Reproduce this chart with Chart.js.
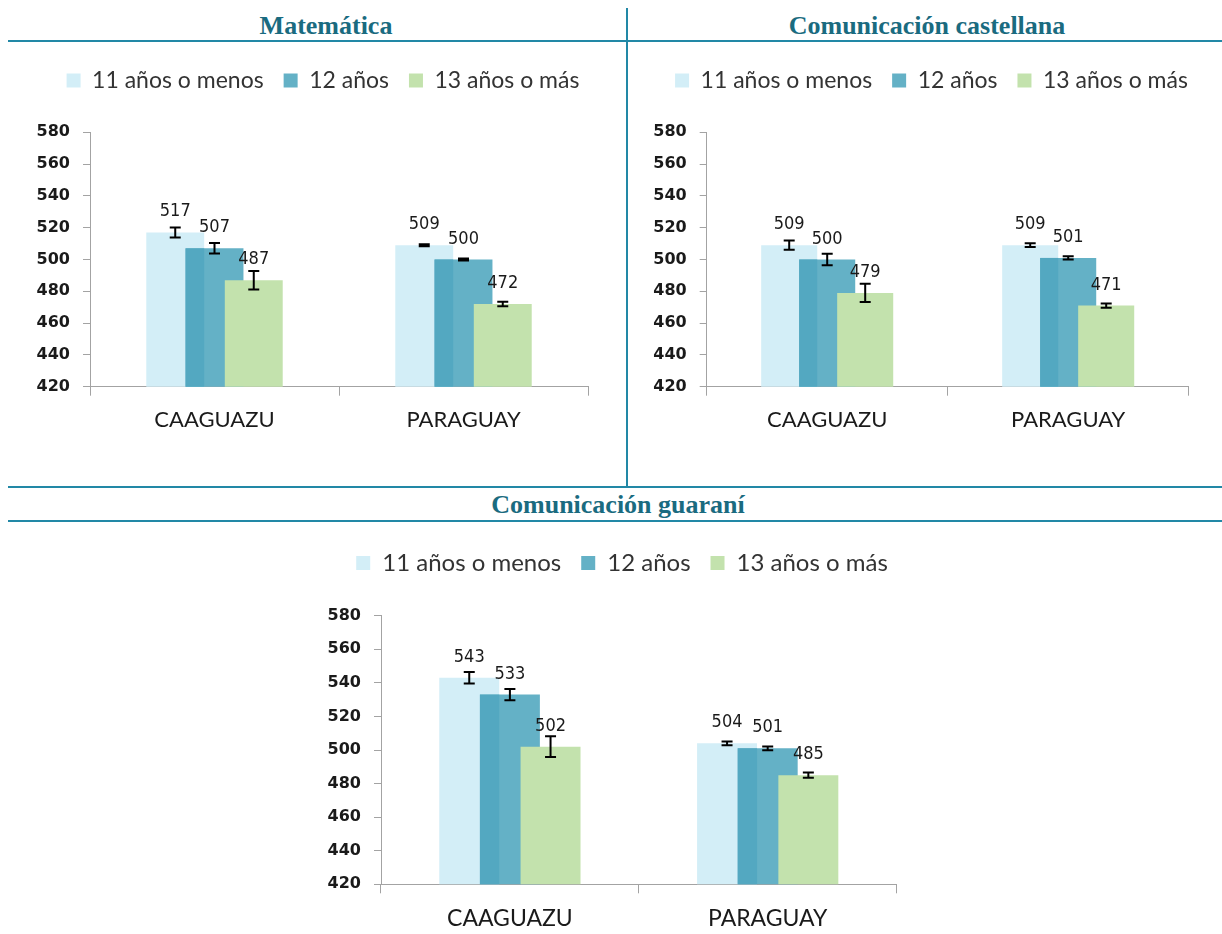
<!DOCTYPE html>
<html><head><meta charset="utf-8">
<script src="https://cdn.jsdelivr.net/npm/chart.js@4.4.1/dist/chart.umd.min.js"></script>
<style>
html,body{margin:0;padding:0;background:#fff;}
html{overflow:hidden;}
body{width:1222px;height:934px;overflow:hidden;position:relative;}
.ln{position:absolute;background:#2288a6;}
.ttl{position:absolute;font-family:"Liberation Serif","Times New Roman",serif;font-weight:bold;font-size:26px;color:#1a6b80;white-space:nowrap;line-height:26px;transform:translateX(-50%);}
.box{position:absolute;}
</style></head><body>
<div class="ln" style="left:8px;top:40px;width:1214px;height:2px"></div>
<div class="ln" style="left:626px;top:8px;width:2px;height:479px"></div>
<div class="ln" style="left:8px;top:486px;width:1214px;height:2px"></div>
<div class="ln" style="left:8px;top:520px;width:1214px;height:2px"></div>
<div class="ttl" style="left:326px;top:13px">Matemática</div>
<div class="ttl" style="left:927px;top:13px">Comunicación castellana</div>
<div class="ttl" style="left:618px;top:492px">Comunicación guaraní</div>

<div class="box" style="left:-10px;top:49px;width:666px;height:398px"><canvas id="c1"></canvas></div>
<div class="box" style="left:601px;top:49px;width:661px;height:398px"><canvas id="c2"></canvas></div>
<div class="box" style="left:8px;top:531px;width:1228px;height:403px"><canvas id="c3"></canvas></div>

<script>
// ---- data ----
const categories = ['CAAGUAZU', 'PARAGUAY'];
const seriesNames = ['11 años o menos', '12 años', '13 años o más'];
const yTicks = { min: 420, max: 580, step: 20 };

// Matemática
const mat11 = [517, 509];
const mat12 = [507, 500];
const mat13 = [487, 472];
const matErr11 = [3.1, 0.6];
const matErr12 = [3.3, 0.6];
const matErr13 = [5.8, 1.35];

// Comunicación castellana
const cas11 = [509, 509];
const cas12 = [500, 501];
const cas13 = [479, 471];
const casErr11 = [2.9, 1.2];
const casErr12 = [3.6, 1.0];
const casErr13 = [5.8, 1.4];

// Comunicación guaraní
const gua11 = [543, 504];
const gua12 = [533, 501];
const gua13 = [502, 485];
const guaErr11 = [3.4, 1.1];
const guaErr12 = [3.4, 1.1];
const guaErr13 = [6.2, 1.6];

// ---- styles ----
const C_LIGHT = '#d3eef7';
const C_TEAL = '#64b1c6';
const C_TEAL_DARK = '#53a8c1';
const C_GREEN = '#c3e2ad';
const AXIS = '#a3a3a3';

const overlapPlugin = {
  id: 'overlap',
  beforeDatasetsDraw(chart) {
    const ctx = chart.ctx;
    const area = chart.chartArea;
    const m0 = chart.getDatasetMeta(0), m1 = chart.getDatasetMeta(1), m2 = chart.getDatasetMeta(2);
    ctx.save();
    ctx.beginPath();
    ctx.rect(area.left, area.top, area.right - area.left, area.bottom - area.top);
    ctx.clip();
    m0.controller.draw();
    m1.controller.draw();
    ctx.fillStyle = C_TEAL_DARK;
    m1.data.forEach((b, i) => {
      const a = m0.data[i];
      const l = b.x - b.width / 2, r = a.x + a.width / 2;
      ctx.fillRect(l, b.y, r - l, b.base - b.y);
    });
    m2.controller.draw();
    ctx.restore();
    return false;
  },
  afterDraw(chart, args, opts) {
    const ctx = chart.ctx;
    const ys = chart.scales.y;
    ctx.save();
    ctx.strokeStyle = '#000';
    ctx.lineWidth = 2;
    ctx.fillStyle = '#1a1a1a';
    ctx.font = opts.labelFont;
    ctx.textAlign = 'center';
    ctx.textBaseline = 'alphabetic';
    const cap = 5.5;
    chart.data.datasets.forEach((ds, di) => {
      const meta = chart.getDatasetMeta(di);
      meta.data.forEach((el, i) => {
        const v = ds.data[i], e = opts.errors[di][i];
        const yt = ys.getPixelForValue(v + e), yb = ys.getPixelForValue(v - e);
        ctx.beginPath();
        ctx.moveTo(el.x, yt); ctx.lineTo(el.x, yb);
        ctx.moveTo(el.x - cap, yt); ctx.lineTo(el.x + cap, yt);
        ctx.moveTo(el.x - cap, yb); ctx.lineTo(el.x + cap, yb);
        ctx.stroke();
      });
    });
    chart.data.datasets.forEach((ds, di) => {
      const meta = chart.getDatasetMeta(di);
      meta.data.forEach((el, i) => {
        ctx.fillText(String(ds.data[i]), el.x, el.y - 16);
      });
    });
    ctx.restore();
  }
};

function makeChart(id, s11, s12, s13, errs, g) {
  return new Chart(document.getElementById(id), {
    type: 'bar',
    data: {
      labels: categories,
      datasets: [
        { label: seriesNames[0], data: s11, backgroundColor: C_LIGHT },
        { label: seriesNames[1], data: s12, backgroundColor: C_TEAL },
        { label: seriesNames[2], data: s13, backgroundColor: C_GREEN }
      ]
    },
    options: {
      responsive: true,
      maintainAspectRatio: false,
      animation: false,
      events: [],
      categoryPercentage: 0.473,
      barPercentage: 1.475,
      layout: { padding: 0 },
      scales: {
        x: {
          grid: { display: true, drawOnChartArea: false, drawTicks: true, tickLength: 9, color: AXIS, offset: true },
          border: { display: true, color: AXIS, width: 1 },
          ticks: { font: { family: 'Lato', size: g.xFont }, color: '#1a1a1a', padding: 11 },
          afterFit: s => { s.height = g.xH; }
        },
        y: {
          min: yTicks.min, max: yTicks.max,
          grid: { display: true, drawOnChartArea: false, drawTicks: true, tickLength: 7, color: AXIS },
          border: { display: true, color: AXIS, width: 1 },
          ticks: { stepSize: yTicks.step, font: { family: 'DejaVu Sans', size: 16, weight: 'bold' }, color: '#1a1a1a', padding: 13 },
          afterFit: s => { s.width = g.yW; }
        },
        y2: {
          type: 'linear', position: 'right', display: true,
          grid: { display: false }, border: { display: false }, ticks: { display: false },
          afterFit: s => { s.width = g.rW; }
        }
      },
      plugins: {
        legend: {
          display: true, position: 'top', align: 'center', weight: 3000,
          labels: { font: { family: 'Lato', size: g.legFont }, color: '#333', boxWidth: 14, boxHeight: 14, padding: 20 }
        },
        title: { display: true, text: '', font: { size: 10, lineHeight: 1 }, padding: { top: g.gap - 10, bottom: 0 } },
        tooltip: { enabled: false },
        overlap: { errors: errs, labelFont: '18px "DejaVu Sans Condensed", "DejaVu Sans", sans-serif' }
      }
    },
    plugins: [overlapPlugin]
  });
}

makeChart('c1', mat11, mat12, mat13, [matErr11, matErr12, matErr13],
  { yW: 100, rW: 68, xH: 60.3, gap: 30.3, xFont: 22, legFont: 23 });
makeChart('c2', cas11, cas12, cas13, [casErr11, casErr12, casErr13],
  { yW: 105.7, rW: 73.3, xH: 60.3, gap: 30.3, xFont: 22, legFont: 23 });
makeChart('c3', gua11, gua12, gua13, [guaErr11, guaErr12, guaErr13],
  { yW: 373, rW: 339.4, xH: 49.7, gap: 30.7, xFont: 23, legFont: 24 });
</script>
</body></html>
